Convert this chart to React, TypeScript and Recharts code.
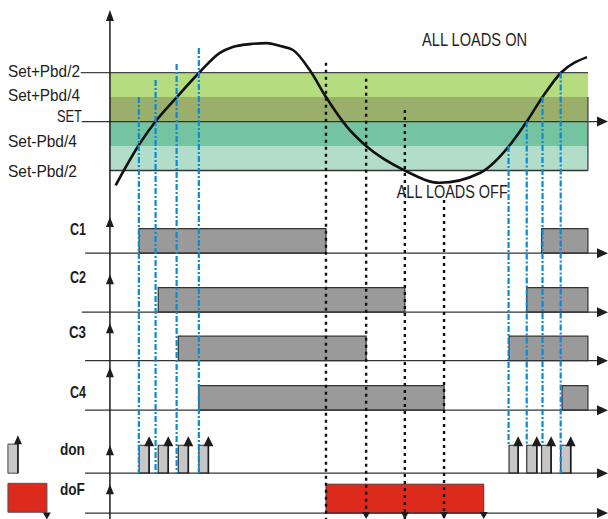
import React from 'react';
import { ComposedChart, XAxis, YAxis, Line, ReferenceArea, ReferenceLine, ReferenceDot } from 'recharts';

// ---------- data (time units on X, temperature in Pbd/4 steps around SET on Y) ----------
const thresholdLabels = ['Set+Pbd/2', 'Set+Pbd/4', 'SET', 'Set-Pbd/4', 'Set-Pbd/2'];
const thresholdValues = [2, 1, 0, -1, -2];

const curveTimes = [1.2, 6.05, 9.6, 14.0, 18.6, 23.0, 25.7, 29.3, 32.8, 35.6, 38.3, 41.8, 45.2, 49.6, 53.6, 61.7, 69.0, 77.4, 83.5, 87.2, 90.5, 94.4, 99.8];
const curveTemps = [-2.6, -0.96, 0.02, 1.0, 1.98, 2.8, 3.04, 3.16, 3.2, 3.08, 2.92, 2.1, 1.0, -0.22, -1.0, -2.0, -2.5, -2.1, -1.0, 0.0, 1.0, 2.0, 2.63];

const laneNames = ['C1', 'C2', 'C3', 'C4', 'don', 'doF'];
const c1On = [[6.1, 45.2], [90.3, 100]];
const c2On = [[10.1, 61.7], [87.2, 100]];
const c3On = [[14.3, 53.6], [83.5, 100]];
const c4On = [[18.6, 69.9], [94.6, 100]];
const donPulses = [[6.1, 8.2], [10.1, 12.2], [14.3, 16.4], [18.6, 20.6], [83.5, 85.4], [87.2, 89.3], [90.3, 92.3], [94.3, 96.4]];
const dofOn = [[45.2, 78.2]];
const dofOffMarks = [53.6, 61.7, 69.9, 78.2];

const stageUpTimes = [6.05, 9.55, 13.95, 18.6, 83.4, 87.2, 90.5, 94.3];
const stageUpFrom = [1.0, 1.7, 2.35, 3.0, -1, 0, 1, 2];
const stageUpToLevel = [0, 0, 0, 0, 1, 1, 1, 0];
const stageDownTimes = [45.2, 53.6, 61.7, 69.9];
const stageDownFrom = [2.4, 1.75, 0.47, -3.2];

const noteOn = 'ALL LOADS ON';
const noteOff = 'ALL LOADS OFF';

// ---------- layout ----------
const X_DOMAIN = [-23, 104.2];
const Y_DOMAIN = [-16.22, 4.96];
const T_END = 100;
const LANE_BASE = [-5.37, -7.78, -9.76, -11.78, -14.35, -15.98];
const LANE_H = [1, 1, 1, 1, 1.14, 1.18];
const LANE_ARROW = [1.47, 1.55, 1.53, 1.75, 1.0, 1.0];
const LANE_LABEL = [0.73, 1.18, 0.92, 0.49, 0.64, 0.62];
const LANE_LABEL_W = [16, 16, 17, 16, 25, 25];
const LABEL_DY = [4.5, 4, 0.5, 1, 6];
const LABEL_W = [72, 72, 25, 69, 69];
const ly = (lane: number, level: number) => LANE_BASE[lane] + level * LANE_H[lane];

const FONT = "'Liberation Sans Narrow','Arial Narrow','Liberation Sans',Arial,sans-serif";
const INK = '#1d1d1d';
const BAND_FILLS = ['#b5dc7f', '#9aaf6b', '#74c3a1', '#b2ddc9'];
const BLUE = '#0b8ad9';

const curveData = curveTimes.map((t, i) => ({ t, temp: curveTemps[i] }));

const arrowHead = (dir: string, len = 10, half = 4, color = INK) => (p: any) => {
  const { cx, cy } = p;
  let pts = '';
  if (dir === 'up') pts = `${cx},${cy} ${cx - half},${cy + len} ${cx + half},${cy + len}`;
  if (dir === 'down') pts = `${cx},${cy} ${cx - half},${cy - len} ${cx + half},${cy - len}`;
  if (dir === 'right') pts = `${cx},${cy} ${cx - len},${cy - half} ${cx - len},${cy + half}`;
  return <polygon points={pts} fill={color} />;
};

const textShape = (s: string, o: { anchor?: string; dy?: number; size?: number; bold?: boolean; width?: number }) => (p: any) => (
  <text
    x={p.cx}
    y={p.cy + (o.dy || 0)}
    textAnchor={o.anchor || 'start'}
    fontSize={o.size || 16}
    fontWeight={o.bold ? 700 : 400}
    fontFamily={FONT}
    fill={INK}
    textLength={o.width}
    lengthAdjust="spacingAndGlyphs"
  >
    {s}
  </text>
);

const seg = (key: string, x1: number, y1: number, x2: number, y2: number, stroke = INK, w = 1.3, dash?: string) => (
  <ReferenceLine
    key={key}
    segment={[{ x: x1, y: y1 }, { x: x2, y: y2 }]}
    stroke={stroke}
    strokeWidth={w}
    strokeDasharray={dash}
    ifOverflow="visible"
  />
);

const dot = (key: string, x: number, y: number, shape: any) => (
  <ReferenceDot key={key} x={x} y={y} r={1} shape={shape} ifOverflow="visible" />
);

const rect = (key: string, x1: number, x2: number, y1: number, y2: number, fill: string, stroke?: string, sw = 1.2) => (
  <ReferenceArea key={key} x1={x1} x2={x2} y1={y1} y2={y2} fill={fill} fillOpacity={1} stroke={stroke || 'none'} strokeWidth={sw} ifOverflow="visible" />
);

export default function App() {
  const laneIntervals = [c1On, c2On, c3On, c4On];
  return (
    <div style={{ position: 'absolute', left: 0, top: 0, width: 608, height: 519, background: '#fff' }}>
      <ComposedChart width={608} height={519} margin={{ top: 0, right: 0, bottom: 0, left: 0 }}>
        <XAxis type="number" dataKey="t" domain={X_DOMAIN} hide allowDataOverflow />
        <YAxis type="number" domain={Y_DOMAIN} hide allowDataOverflow />

        {/* threshold bands */}
        {BAND_FILLS.map((f, i) => rect(`band${i}`, 0, T_END, thresholdValues[i], thresholdValues[i + 1], f))}
        {seg('lineTop', -6.1, 2, T_END, 2, '#444', 1.3)}
        {seg('lineSet', -5.9, 0, 103, 0, '#333', 1.3)}
        {seg('lineBot', 0, -2, T_END, -2, '#333', 1.6)}
        {seg('lineRight', T_END, 1, T_END, -2, '#444', 1.3)}

        {/* lane baselines */}
        {LANE_BASE.map((b, i) => seg(`base${i}`, i === 1 ? -5.9 : -5.2, b, 103, b, '#333', 1.2))}

        {/* channel bars */}
        {laneIntervals.map((iv, lane) => iv.map((r, j) => rect(`bar${lane}_${j}`, r[0], r[1], ly(lane, 0), ly(lane, 1), '#9a9a9a', '#333')))}
        {donPulses.map((r, j) => rect(`pulse${j}`, r[0], r[1], ly(4, 0), ly(4, 1), '#c6c6c6', '#333'))}
        {dofOn.map((r, j) => rect(`dof${j}`, r[0], r[1], ly(5, 0), ly(5, 1), '#dc2a1c', '#6a2a20', 1))}

        {/* legend icons */}
        {rect('iconDon', -21.34, -19.25, ly(4, 0), ly(4, 1.04), '#c8c8c8', '#444', 1)}
        {rect('iconDof', -21.34, -13.18, ly(5, 0.03), ly(5, 1.03), '#dc2a1c', '#555', 1)}
        {seg('iconDonShaft', -19.25, ly(4, 0), -19.25, ly(4, 1.2), INK, 1.6)}
        {dot('iconDonHead', -19.25, ly(4, 1.36), arrowHead('up', 9, 4))}
        {dot('iconDofHead', -13.2, ly(5, -0.22), arrowHead('down', 7, 4))}

        {/* main vertical axis */}
        {seg('mainAxis', 0, Y_DOMAIN[0], 0, 4.3, INK, 1.5)}
        {dot('mainAxisHead', 0, 4.55, arrowHead('up', 11, 4))}
        {LANE_ARROW.map((lv, i) => dot(`laneHead${i}`, 0, ly(i, lv), arrowHead('up', 10, 4)))}

        {/* temperature curve */}
        <Line
          data={curveData}
          dataKey="temp"
          type="monotone"
          stroke="#111"
          strokeWidth={2.6}
          strokeLinecap="butt"
          dot={false}
          activeDot={false}
          legendType="none"
          isAnimationActive={false}
        />

        {/* don pulse arrows */}
        {donPulses.map((r, j) => seg(`pulseShaft${j}`, r[1], ly(4, 0), r[1], ly(4, 1.1), INK, 1.6))}
        {donPulses.map((r, j) => dot(`pulseHead${j}`, r[1], ly(4, 1.32), arrowHead('up', 10, 5)))}

        {/* stage-up (blue) and stage-down (black) markers */}
        {stageUpTimes.map((t, i) => seg(`up${i}`, t, stageUpFrom[i], t, ly(4, stageUpToLevel[i]), BLUE, 2.2, '6 2 2 2'))}
        {stageDownTimes.map((t, i) => seg(`down${i}`, t, stageDownFrom[i], t, Y_DOMAIN[0], '#111', 2.4, '3 4'))}
        {dofOffMarks.map((t, i) => dot(`dofHead${i}`, t, ly(5, -0.2), arrowHead('down', 7, 4)))}

        {/* right arrow heads */}
        {dot('setHead', 104.2, 0, arrowHead('right', 11, 5))}
        {LANE_BASE.map((b, i) => dot(`baseHead${i}`, 104.2, b, arrowHead('right', 11, 5)))}

        {/* labels */}
        {thresholdLabels.map((s, i) =>
          dot(`thl${i}`, s === 'SET' ? -11.09 : -21.34, thresholdValues[i], textShape(s, { dy: LABEL_DY[i], size: 17, width: LABEL_W[i] }))
        )}
        {laneNames.map((s, i) =>
          dot(`lnl${i}`, i < 4 ? -5.02 : -5.23, ly(i, LANE_LABEL[i]), textShape(s, { anchor: 'end', size: 17, bold: true, width: LANE_LABEL_W[i] }))
        )}
        {dot('noteOn', 65.3, 3.08, textShape(noteOn, { size: 18, width: 105 }))}
        {dot('noteOff', 60.0, -3.12, textShape(noteOff, { size: 18, width: 111 }))}
      </ComposedChart>
    </div>
  );
}
